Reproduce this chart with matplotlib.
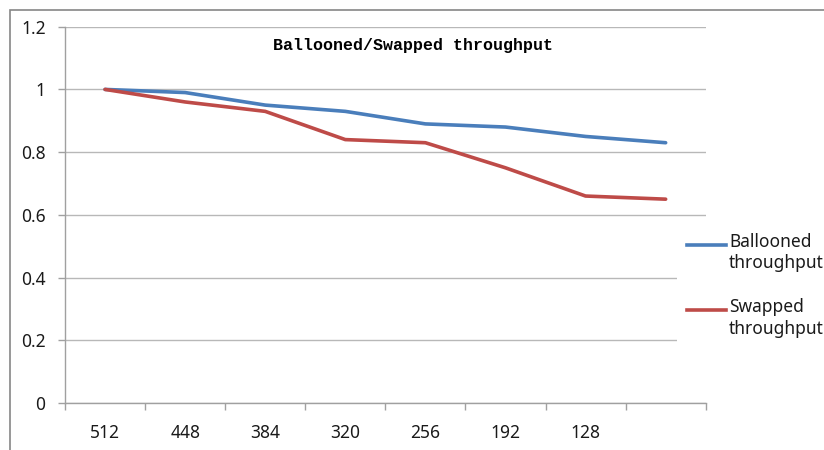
import numpy as np
import matplotlib
matplotlib.use("Agg")
import matplotlib.pyplot as plt
from matplotlib.patches import Rectangle
from matplotlib.lines import Line2D

# memory sizes (last point has no label on the axis)
categories = ["512", "448", "384", "320", "256", "192", "128", ""]
ballooned = [1.0, 0.99, 0.95, 0.93, 0.89, 0.88, 0.85, 0.83]
swapped = [1.0, 0.96, 0.93, 0.84, 0.83, 0.75, 0.66, 0.65]
series_names = ["Ballooned\nthroughput", "Swapped\nthroughput"]
colors = ["#4A7EBB", "#BE4B48"]

plt.rcParams["font.family"] = ["Noto Sans", "DejaVu Sans"]

W, H = 824, 450
fig = plt.figure(figsize=(W / 100, H / 100), dpi=100)

def fx(px):
    return px / W

def fy(py):
    return 1 - py / H

# outer chart border
fig.patches.append(Rectangle((fx(10), -0.1), 1.0, fy(10) + 0.1,
                             transform=fig.transFigure, fill=False,
                             edgecolor="#868686", linewidth=1.2))

ax = fig.add_axes([fx(65), fy(403), fx(705.7) - fx(65), fy(26.7) - fy(403)])

x = np.arange(len(categories))
ax.plot(x, ballooned, color=colors[0], linewidth=2.6, solid_capstyle="round", zorder=3)
ax.plot(x, swapped, color=colors[1], linewidth=2.6, solid_capstyle="round", zorder=3)

ax.set_xlim(-0.5, len(categories) - 0.5)
ax.set_ylim(0, 1.2)
ax.set_yticks(np.arange(0, 1.21, 0.2))
ax.set_yticklabels(["0", "0.2", "0.4", "0.6", "0.8", "1", "1.2"])
ax.set_xticks(x)
ax.set_xticklabels(categories)
ax.set_xticks(np.arange(-0.5, len(categories), 1.0), minor=True)

ax.grid(axis="y", color="#B8B8B8", linewidth=1.0, zorder=0)
for s in ["top", "right"]:
    ax.spines[s].set_visible(False)
for s in ["left", "bottom"]:
    ax.spines[s].set_color("#A0A0A0")
    ax.spines[s].set_linewidth(1.0)

ax.tick_params(axis="x", which="major", length=0, pad=15, labelsize=12.5, labelcolor="#1A1A1A")
ax.tick_params(axis="x", which="minor", length=5, width=1, color="#A0A0A0", direction="out")
ax.tick_params(axis="y", length=5, width=1, color="#A0A0A0", pad=9, labelsize=12.5, labelcolor="#1A1A1A")

ax.text(0.543, 0.951, "Ballooned/Swapped throughput", transform=ax.transAxes,
        ha="center", va="center", fontsize=12, fontweight="bold",
        family="Liberation Mono", color="black")

# legend block on the right, white background over the gridlines
fig.patches.append(Rectangle((fx(677), fy(352)), fx(824) - fx(677), fy(228) - fy(352),
                             transform=fig.transFigure, facecolor="white",
                             edgecolor="none", zorder=5))
for i, (name, c) in enumerate(zip(series_names, colors)):
    y0 = 245 + i * 65
    fig.lines.append(Line2D([fx(687), fx(726)], [fy(y0), fy(y0)],
                            transform=fig.transFigure, color=c, linewidth=2.6, zorder=6))
    fig.text(fx(729), fy(y0 - 12), name, ha="left", va="top", fontsize=12.5,
             color="#1A1A1A", linespacing=1.25, zorder=6)

fig.savefig("out.png", dpi=100)
